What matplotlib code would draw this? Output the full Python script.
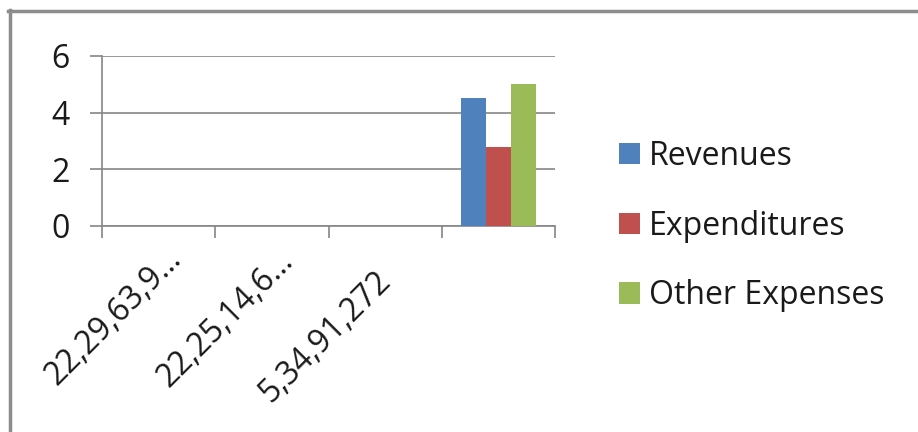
import numpy as np
import matplotlib
matplotlib.use("Agg")
import matplotlib.pyplot as plt
from matplotlib.lines import Line2D
from matplotlib.transforms import ScaledTranslation

# Chart data
categories = ["22,29,63,9…", "22,25,14,6…", "5,34,91,272", ""]
series_names = ["Revenues", "Expenditures", "Other Expenses"]
revenues = [np.nan, np.nan, np.nan, 4.5]
expenditures = [np.nan, np.nan, np.nan, 2.8]
other_expenses = [np.nan, np.nan, np.nan, 5.0]
y_ticks = [0, 2, 4, 6]

colors = ["#4F81BD", "#C0504D", "#9BBB59"]
grid_color = "#868686"
text_color = "#1a1a1a"
fs = 23
# pixel nudges for the rotated category labels (x right, y up)
label_nudges = [(18, -28), (17, -30), (1, -50), (0, 0)]
plt.rcParams["font.family"] = ["Open Sans", "DejaVu Sans"]

W, H = 918, 432
fig = plt.figure(figsize=(W / 100, H / 100), dpi=100)
fig.patch.set_facecolor("white")

ax = fig.add_axes([102 / W, 1 - 226 / H, (555 - 102) / W, (226 - 56) / H])

x = np.arange(len(categories))
bw = 1 / 4.5
for i, (vals, name) in enumerate(zip([revenues, expenditures, other_expenses], series_names)):
    ax.bar(x + (i - 1) * bw, vals, width=bw, color=colors[i], label=name, zorder=3)

ax.set_xlim(-0.5, len(categories) - 0.5)
ax.set_ylim(0, 6)
ax.set_yticks(y_ticks)
ax.set_yticklabels([str(v) for v in y_ticks], fontsize=fs)
ax.yaxis.grid(True, color=grid_color, linewidth=1.2, zorder=0)
ax.tick_params(axis="y", length=8.5, width=1.2, color=grid_color, pad=15, labelcolor=text_color)

# category boundaries carry tick marks, centers carry rotated labels
ax.set_xticks(np.arange(-0.5, len(categories), 1.0))
ax.set_xticklabels([])
ax.tick_params(axis="x", which="major", length=8.5, width=1.2, color=grid_color)
ax.set_xticks(x, minor=True)
ax.set_xticklabels(categories, minor=True, rotation=45, ha="right", va="center",
                   rotation_mode="anchor", fontsize=fs, color=text_color)
ax.tick_params(axis="x", which="minor", length=0, pad=0)
for lbl, (dx, dy) in zip(ax.get_xticklabels(minor=True), label_nudges):
    lbl.set_transform(lbl.get_transform() + ScaledTranslation(dx / 100, dy / 100, fig.dpi_scale_trans))

for side in ["top", "right"]:
    ax.spines[side].set_visible(False)
for side in ["left", "bottom"]:
    ax.spines[side].set_color(grid_color)
    ax.spines[side].set_linewidth(1.2)
ax.set_facecolor("white")

leg = fig.legend(loc="center left", bbox_to_anchor=(619 / W, 1 - 226 / H), frameon=False,
                 fontsize=fs, handlelength=0.65, handleheight=0.65, handletextpad=0.3,
                 labelspacing=1.15, borderpad=0, borderaxespad=0)
for t in leg.get_texts():
    t.set_color(text_color)

# outer chart frame (top and left edges)
fig.add_artist(Line2D([9.5 / W, 9.5 / W], [0, 1 - 9.5 / H], color="#8c8c8c", linewidth=2.5,
                      transform=fig.transFigure))
fig.add_artist(Line2D([8 / W, 1], [1 - 10.5 / H, 1 - 10.5 / H], color="#8c8c8c", linewidth=2.5,
                      transform=fig.transFigure))

fig.savefig("out.png", dpi=100, facecolor="white")
